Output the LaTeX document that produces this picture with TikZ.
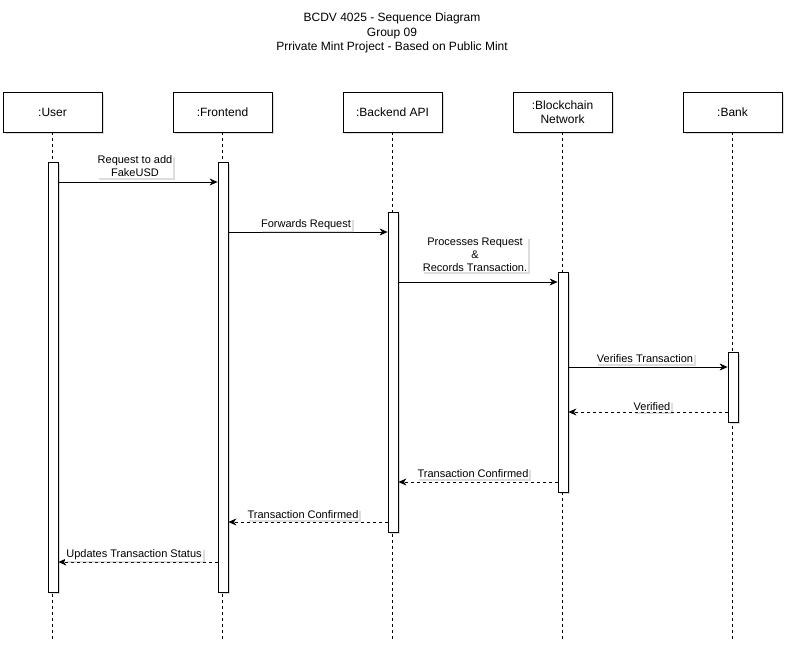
\documentclass[tikz,border=0pt]{standalone}
\usepackage{fontspec}
\setmainfont{Liberation Sans}
\usetikzlibrary{arrows.meta,shadows}
\begin{document}
\begin{tikzpicture}[x=1pt,y=-1pt,
  shad/.style={drop shadow={shadow xshift=2pt,shadow yshift=-2pt,opacity=0.22,fill=black!60}},
  actor/.style={draw,fill=white,line width=0.8pt,minimum width=99pt,minimum height=40pt,inner sep=0pt,align=center,font=\fontsize{12}{14}\selectfont,shad},
  actbar/.style={draw,fill=white,line width=0.8pt,minimum width=10pt,inner sep=0pt,shad},
  lifeline/.style={draw,line width=0.6pt,dash pattern=on 3pt off 3pt},
  msg/.style={draw,line width=0.7pt,-{Stealth[length=8pt,width=7pt,inset=2.5pt]}},
  ret/.style={msg,dash pattern=on 3pt off 3pt},
  lbl/.style={fill=white,inner sep=1pt,align=center,font=\fontsize{11}{13}\selectfont,shad},
  ttl/.style={align=center,font=\fontsize{12}{14.5}\selectfont}
]
\useasboundingbox (0,0) rectangle (792,651);
\node[ttl] (title) at (392,33) {BCDV 4025 - Sequence Diagram\\Group 09\\Prrivate Mint Project - Based on Public Mint};

% actors
\node[actor] (user) at (52.5,112) {:User};
\node[actor] (front) at (222.5,112) {:Frontend};
\node[actor] (back) at (392.5,112) {:Backend API};
\node[actor] (chain) at (562.5,112) {:Blockchain\\Network};
\node[actor] (bank) at (732.5,112) {:Bank};

% lifeline ends
\coordinate (uEnd) at (52.5,640);
\coordinate (fEnd) at (222.5,640);
\coordinate (bEnd) at (392.5,640);
\coordinate (cEnd) at (562.5,640);
\coordinate (kEnd) at (732.5,640);
\draw[lifeline] (user.south) -- (uEnd);
\draw[lifeline] (front.south) -- (fEnd);
\draw[lifeline] (back.south) -- (bEnd);
\draw[lifeline] (chain.south) -- (cEnd);
\draw[lifeline] (bank.south) -- (kEnd);

% activation bars
\node[actbar,minimum height=430pt] (uA) at (53,377) {};
\node[actbar,minimum height=430pt] (fA) at (223,377) {};
\node[actbar,minimum height=320pt] (bA) at (393,372) {};
\node[actbar,minimum height=220pt] (cA) at (563,382) {};
\node[actbar,minimum height=70pt] (kA) at (733,387) {};

% message rows
\coordinate (y1) at (0,182);
\coordinate (y2) at (0,232);
\coordinate (y3) at (0,282);
\coordinate (y4) at (0,367);
\coordinate (y5) at (0,412);
\coordinate (y6) at (0,482);
\coordinate (y7) at (0,522);
\coordinate (y8) at (0,562);

\draw[msg] (uA.east |- y1) -- (fA.west |- y1);
\draw[msg] (fA.east |- y2) -- (bA.west |- y2);
\draw[msg] (bA.east |- y3) -- (cA.west |- y3);
\draw[msg] (cA.east |- y4) -- (kA.west |- y4);
\draw[ret] (kA.west |- y5) -- (cA.east |- y5);
\draw[ret] (cA.west |- y6) -- (bA.east |- y6);
\draw[ret] (bA.west |- y7) -- (fA.east |- y7);
\draw[ret] (fA.west |- y8) -- (uA.east |- y8);

% labels
\node[lbl] (l1) at (135,166.5) {Request to add\\FakeUSD};
\node[lbl] (l2) at (306,224.5) {Forwards Request};
\node[lbl] (l3) at (475,254.5) {Processes Request\\\&\\Records Transaction.};
\node[lbl] (l4) at (645,358.5) {Verifies Transaction};
\node[lbl] (l5) at (652,406.5) {Verified};
\node[lbl] (l6) at (473,473.5) {Transaction Confirmed};
\node[lbl] (l7) at (303,514.5) {Transaction Confirmed};
\node[lbl] (l8) at (134,554.5) {Updates Transaction Status};
\end{tikzpicture}
\end{document}
